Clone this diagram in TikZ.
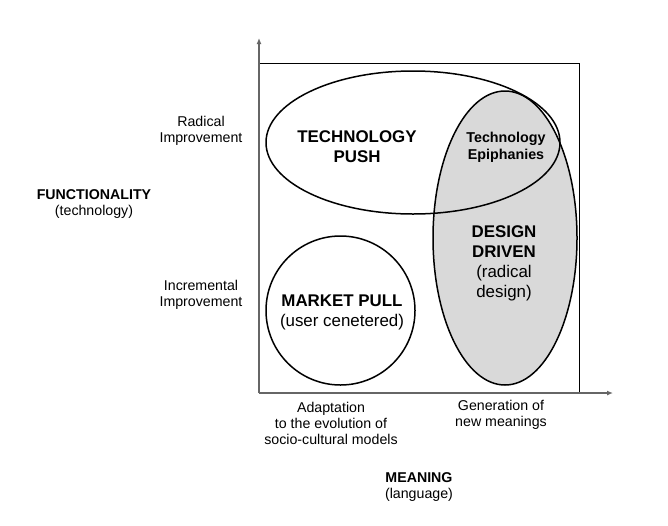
\documentclass[tikz,border=0pt]{standalone}
\usepackage{fontspec}
\setmainfont{Liberation Sans}
\usetikzlibrary{shapes.geometric,arrows.meta}
\definecolor{axisgray}{HTML}{666666}
\definecolor{shade}{HTML}{D9D9D9}
\tikzset{
  blob/.style={draw=black,line width=1.5pt,inner sep=0pt,outer sep=0pt},
  small/.style={align=center,font=\fontsize{14.2}{16}\selectfont,inner sep=0pt},
  big/.style={align=center,font=\fontsize{16.9}{20}\selectfont,inner sep=0pt},
  axis/.style={draw=axisgray,line width=2pt,-{Latex[length=6pt,width=5pt]}}
}
\begin{document}
\begin{tikzpicture}[x=1pt,y=-1pt]
\useasboundingbox[fill=white] (0,0) rectangle (668,525);
% frame
\node[draw=black,line width=1pt,minimum width=320pt,minimum height=329pt,inner sep=0pt] (frame) at (419,227.5) {};
% ellipses
\node[blob,ellipse,fill=shade,minimum width=144pt,minimum height=294pt] (design) at (505,238) {};
\node[blob,ellipse,minimum width=294pt,minimum height=143pt] (push) at (413,142.5) {};
\node[blob,circle,fill=white,minimum size=149pt] (market) at (340.5,310.5) {};
% axes
\coordinate (origin) at (259,393);
\coordinate (ytip) at (259,38);
\coordinate (xtip) at (613,393);
\draw[axis] (origin) -- (ytip);
\draw[axis] (origin) -- (xtip);
% labels inside
\node[big,font=\bfseries\fontsize{16.9}{20}\selectfont] (pushlbl) at (357,147) {TECHNOLOGY\\PUSH};
\node[big,font=\bfseries\fontsize{14.3}{17}\selectfont] (epi) at (506,147.5) {Technology\\Epiphanies};
\node[big] (designlbl) at (504,263) {\textbf{DESIGN}\\\textbf{DRIVEN}\\(radical\\design)};
\node[big] (marketlbl) at (342,312) {\textbf{MARKET PULL}\\(user cenetered)};
% axis labels
\node[small] (radical) at (201,131) {Radical\\Improvement};
\node[small] (incr) at (201,295) {Incremental\\Improvement};
\node[small] (func) at (94,204) {\textbf{FUNCTIONALITY}\\(technology)};
\node[small] (adapt) at (331,423) {Adaptation\\to the evolution of\\socio-cultural models};
\node[small] (gen) at (501,415) {Generation of\\new meanings};
\node[small] (meaning) at (419,487) {\textbf{MEANING}\\(language)};
\end{tikzpicture}
\end{document}
